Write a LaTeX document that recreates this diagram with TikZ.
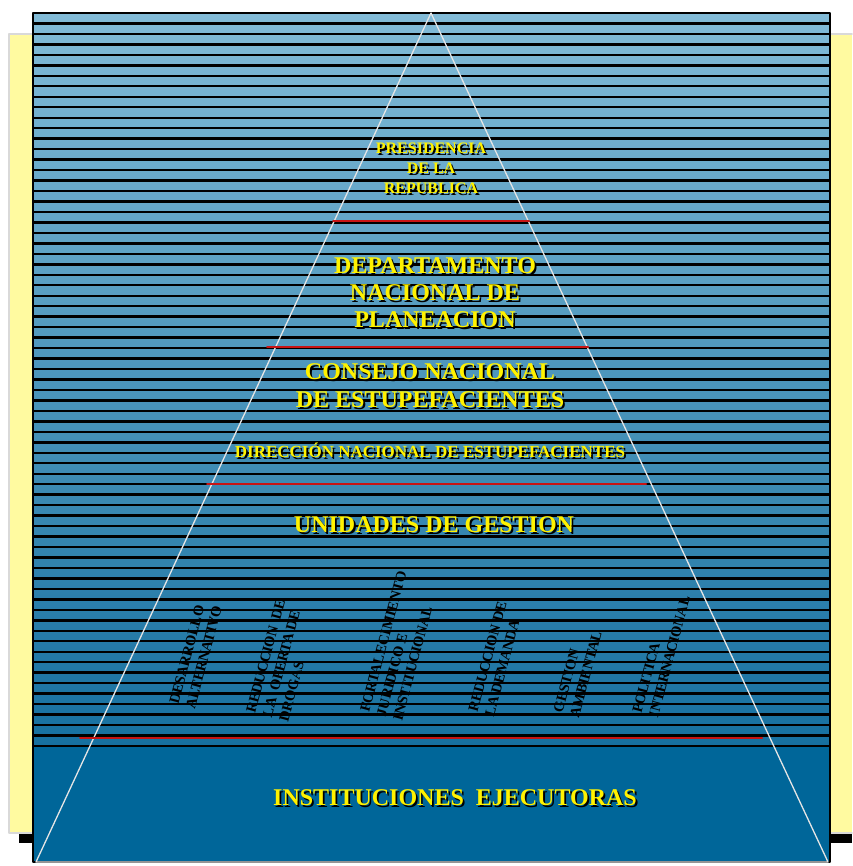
\documentclass[tikz,border=0pt]{standalone}
\usepackage{fontspec}
\setmainfont{Liberation Serif}
\definecolor{franjaalta}{RGB}{130,187,215}
\definecolor{franjabaja}{RGB}{22,112,160}
\definecolor{pie}{RGB}{0,102,153}
\definecolor{hoja}{RGB}{255,250,160}
\definecolor{rojo}{RGB}{200,20,20}
\newcommand\sombra[1]{\makebox[0pt][l]{\kern1.8pt\raisebox{-1.8pt}{\color{black}#1}}#1}
\tikzset{
  nivel/.style={text=yellow, font=\bfseries\fontsize{24}{27}\selectfont, align=center, inner sep=0pt},
  nivelchico/.style={nivel, font=\bfseries\fontsize{17}{20}\selectfont},
  eje/.style={font=\bfseries\fontsize{14.5}{17}\selectfont, align=left, rotate=75, anchor=west, inner sep=0pt},
  raya/.style={rojo, line width=2pt}
}
\begin{document}
\begin{tikzpicture}[x=1pt, y=-1pt, line join=round, line cap=round]
	\def\xa{33} \def\xb{830} \def\ytop{13} \def\ypie{746} \def\ybot{862} % marco
	\def\paso{10.471}
	\useasboundingbox (0,0) rectangle (852,866);
	% hoja amarilla con sombra
	\fill[black] (19,44) rectangle (852,843);
	\fill[hoja] (9,34) rectangle (852,833);
	\draw[gray!30, line width=1.5pt] (852,34) -- (9,34) -- (9,833) -- (852,833);
	% franjas
	\shade[top color=franjaalta, bottom color=franjabaja] (\xa,\ytop) rectangle (\xb,\ypie);
	\fill[pie] (\xa,\ypie) rectangle (\xb,\ybot);
	\foreach \k in {0,...,70}
		\draw[line width=2.4pt, line cap=butt] (\xa,{\ytop+\k*\paso}) -- (\xb,{\ytop+\k*\paso});
	\draw[line width=2pt] (\xa,\ytop) rectangle (\xb,\ybot);
	% piramide
	\draw[gray!20, line width=1.3pt] (431,\ytop) -- (36,\ybot) -- (828,\ybot) -- cycle;
	\foreach \y/\a/\b in {221/333/529, 347/267/588, 484/207/646, 738/80/762}
		\draw[raya] (\a,\y) -- (\b,\y);
	% niveles
	\node[nivelchico, font=\bfseries\fontsize{16}{20}\selectfont] (pres) at (431,169) {\sombra{PRESIDENCIA}\\ \sombra{DE LA}\\ \sombra{REPUBLICA}};
	\node[nivel] (dnp) at (435,294) {\sombra{DEPARTAMENTO}\\ \sombra{NACIONAL DE}\\ \sombra{PLANEACION}};
	\node[nivel, font=\bfseries\fontsize{24}{28}\selectfont] (cne) at (430,387) {\sombra{CONSEJO NACIONAL}\\ \sombra{DE ESTUPEFACIENTES}};
	\node[nivelchico] (dne) at (430,451) {\sombra{DIRECCIÓN NACIONAL DE ESTUPEFACIENTES}};
	\node[nivel] (ug) at (434,526) {\sombra{UNIDADES DE GESTION}};
	\node[nivel] (ie) at (455,799) {\sombra{INSTITUCIONES\ \ EJECUTORAS}};
	% ejes de gestion
	\node[eje] (alt) at (182,706) {DESARROLLO\\ALTERNATIVO};
	\node[eje] (ofe) at (267,717) {REDUCCION\ \ DE\\LA\ \ OFERTA DE\\DROGAS};
	\node[eje] (jur) at (381,716) {FORTALECIMIENTO\\JURIDICO E\\INSTITUCIONAL};
	\node[eje] (dem) at (481,714) {REDUCCION DE\\LA DEMANDA};
	\node[eje] (amb) at (566,715) {GESTION\\AMBIENTAL};
	\node[eje] (pol) at (645,715) {POLITICA\\INTERNACIONAL};
\end{tikzpicture}
\end{document}
